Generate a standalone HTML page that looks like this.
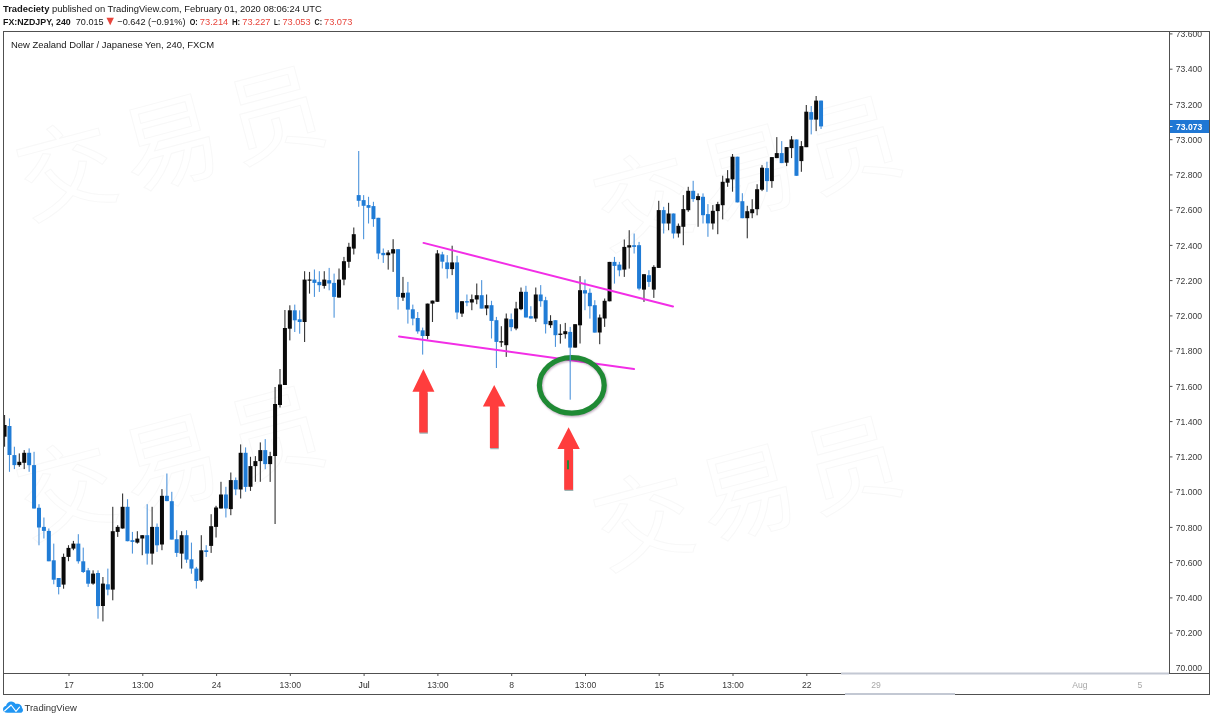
<!DOCTYPE html>
<html lang="en"><head><meta charset="utf-8"><title>NZDJPY chart</title>
<style>
html,body{margin:0;padding:0;background:#fff;}
body{width:1211px;height:719px;overflow:hidden;position:relative;font-family:"Liberation Sans","Noto Sans CJK SC",sans-serif;}
svg{position:absolute;left:0;top:0;display:block;}
svg text{font-family:"Liberation Sans","Noto Sans CJK SC",sans-serif;}
.ax{font-size:8.6px;fill:#3a3a3a;}
.hd{font-size:9.4px;fill:#161616;}
.b{font-weight:bold;}
.r{fill:#e8453c;}
.wm{font-size:98px;letter-spacing:10px;fill:none;stroke:#f8f8f8;stroke-width:1px;font-family:"Noto Sans CJK SC","Liberation Sans",sans-serif;}
</style></head>
<body>
<svg width="1211" height="719" viewBox="0 0 1211 719">
<rect x="0" y="0" width="1211" height="719" fill="#ffffff"/>
<g class="wm">
<text x="28" y="218" transform="rotate(-15 28 218)">交易员</text>
<text x="605" y="248" transform="rotate(-15 605 248)">交易员</text>
<text x="28" y="538" transform="rotate(-15 28 538)">交易员</text>
<text x="605" y="568" transform="rotate(-15 605 568)">交易员</text>
</g>
<text class="hd" x="3" y="11.5"><tspan class="b">Tradeciety</tspan> published on TradingView.com, February 01, 2020 08:06:24 UTC</text>
<text class="hd b" x="3" y="24.5" textLength="67.7" lengthAdjust="spacingAndGlyphs">FX:NZDJPY, 240</text>
<text class="hd" x="75.8" y="24.5" textLength="27.8" lengthAdjust="spacingAndGlyphs">70.015</text>
<text class="hd" x="117.3" y="24.5" textLength="68.2" lengthAdjust="spacingAndGlyphs">−0.642 (−0.91%)</text>
<text class="hd b" x="189.7" y="24.5" textLength="8.0" lengthAdjust="spacingAndGlyphs">O:</text>
<text class="hd r" x="199.8" y="24.5" textLength="28.5" lengthAdjust="spacingAndGlyphs">73.214</text>
<text class="hd b" x="231.9" y="24.5" textLength="8.3" lengthAdjust="spacingAndGlyphs">H:</text>
<text class="hd r" x="242.3" y="24.5" textLength="28.2" lengthAdjust="spacingAndGlyphs">73.227</text>
<text class="hd b" x="274" y="24.5" textLength="6.0" lengthAdjust="spacingAndGlyphs">L:</text>
<text class="hd r" x="282.4" y="24.5" textLength="28.2" lengthAdjust="spacingAndGlyphs">73.053</text>
<text class="hd b" x="314.5" y="24.5" textLength="7.5" lengthAdjust="spacingAndGlyphs">C:</text>
<text class="hd r" x="324" y="24.5" textLength="28.3" lengthAdjust="spacingAndGlyphs">73.073</text>
<text class="hd r" x="110.2" y="25.1" text-anchor="middle" style="font-size:12.5px">▼</text>
<g fill="none" stroke="#505050" stroke-width="1" shape-rendering="crispEdges">
<rect x="3.5" y="31.5" width="1205.5" height="662.5"/>
<line x1="1169.5" y1="31.5" x2="1169.5" y2="673.5"/>
<line x1="3.5" y1="673.5" x2="1208.5" y2="673.5"/>
</g>
<text class="hd" x="11" y="47.5" style="font-size:9.45px">New Zealand Dollar / Japanese Yen, 240, FXCM</text>
<line x1="841" y1="673.5" x2="1169" y2="673.5" stroke="#c3c8d3" stroke-width="1.8"/>
<line x1="845" y1="694" x2="955" y2="694" stroke="#c3c8d3" stroke-width="1.8"/>
<clipPath id="pc"><rect x="1170" y="32" width="38" height="641"/></clipPath>
<g clip-path="url(#pc)">
<line x1="1170" y1="33.9" x2="1172.5" y2="33.9" stroke="#505050" stroke-width="1"/><text class="ax" x="1175.8" y="37.0">73.600</text>
<line x1="1170" y1="69.2" x2="1172.5" y2="69.2" stroke="#505050" stroke-width="1"/><text class="ax" x="1175.8" y="72.2">73.400</text>
<line x1="1170" y1="104.4" x2="1172.5" y2="104.4" stroke="#505050" stroke-width="1"/><text class="ax" x="1175.8" y="107.5">73.200</text>
<line x1="1170" y1="139.7" x2="1172.5" y2="139.7" stroke="#505050" stroke-width="1"/><text class="ax" x="1175.8" y="142.8">73.000</text>
<line x1="1170" y1="174.9" x2="1172.5" y2="174.9" stroke="#505050" stroke-width="1"/><text class="ax" x="1175.8" y="178.0">72.800</text>
<line x1="1170" y1="210.2" x2="1172.5" y2="210.2" stroke="#505050" stroke-width="1"/><text class="ax" x="1175.8" y="213.2">72.600</text>
<line x1="1170" y1="245.4" x2="1172.5" y2="245.4" stroke="#505050" stroke-width="1"/><text class="ax" x="1175.8" y="248.5">72.400</text>
<line x1="1170" y1="280.6" x2="1172.5" y2="280.6" stroke="#505050" stroke-width="1"/><text class="ax" x="1175.8" y="283.8">72.200</text>
<line x1="1170" y1="315.9" x2="1172.5" y2="315.9" stroke="#505050" stroke-width="1"/><text class="ax" x="1175.8" y="319.0">72.000</text>
<line x1="1170" y1="351.1" x2="1172.5" y2="351.1" stroke="#505050" stroke-width="1"/><text class="ax" x="1175.8" y="354.2">71.800</text>
<line x1="1170" y1="386.4" x2="1172.5" y2="386.4" stroke="#505050" stroke-width="1"/><text class="ax" x="1175.8" y="389.5">71.600</text>
<line x1="1170" y1="421.6" x2="1172.5" y2="421.6" stroke="#505050" stroke-width="1"/><text class="ax" x="1175.8" y="424.8">71.400</text>
<line x1="1170" y1="456.9" x2="1172.5" y2="456.9" stroke="#505050" stroke-width="1"/><text class="ax" x="1175.8" y="460.0">71.200</text>
<line x1="1170" y1="492.1" x2="1172.5" y2="492.1" stroke="#505050" stroke-width="1"/><text class="ax" x="1175.8" y="495.2">71.000</text>
<line x1="1170" y1="527.4" x2="1172.5" y2="527.4" stroke="#505050" stroke-width="1"/><text class="ax" x="1175.8" y="530.5">70.800</text>
<line x1="1170" y1="562.6" x2="1172.5" y2="562.6" stroke="#505050" stroke-width="1"/><text class="ax" x="1175.8" y="565.8">70.600</text>
<line x1="1170" y1="597.9" x2="1172.5" y2="597.9" stroke="#505050" stroke-width="1"/><text class="ax" x="1175.8" y="601.0">70.400</text>
<line x1="1170" y1="633.1" x2="1172.5" y2="633.1" stroke="#505050" stroke-width="1"/><text class="ax" x="1175.8" y="636.2">70.200</text>
</g>
<text class="ax" x="1175.8" y="671">70.000</text>
<rect x="1170" y="120" width="39" height="13" fill="#1f77d4"/>
<line x1="1170" y1="126.5" x2="1172.5" y2="126.5" stroke="#fff" stroke-width="1"/>
<text class="ax b" x="1176" y="129.7" style="fill:#fff">73.073</text>
<line x1="69.0" y1="674" x2="69.0" y2="676" stroke="#505050" stroke-width="1"/><text class="ax" x="69.0" y="688" text-anchor="middle">17</text>
<line x1="142.8" y1="674" x2="142.8" y2="676" stroke="#505050" stroke-width="1"/><text class="ax" x="142.8" y="688" text-anchor="middle">13:00</text>
<line x1="216.6" y1="674" x2="216.6" y2="676" stroke="#505050" stroke-width="1"/><text class="ax" x="216.6" y="688" text-anchor="middle">24</text>
<line x1="290.3" y1="674" x2="290.3" y2="676" stroke="#505050" stroke-width="1"/><text class="ax" x="290.3" y="688" text-anchor="middle">13:00</text>
<line x1="364.1" y1="674" x2="364.1" y2="676" stroke="#505050" stroke-width="1"/><text class="ax" x="364.1" y="688" text-anchor="middle" style="fill:#111">Jul</text>
<line x1="437.9" y1="674" x2="437.9" y2="676" stroke="#505050" stroke-width="1"/><text class="ax" x="437.9" y="688" text-anchor="middle">13:00</text>
<line x1="511.7" y1="674" x2="511.7" y2="676" stroke="#505050" stroke-width="1"/><text class="ax" x="511.7" y="688" text-anchor="middle">8</text>
<line x1="585.5" y1="674" x2="585.5" y2="676" stroke="#505050" stroke-width="1"/><text class="ax" x="585.5" y="688" text-anchor="middle">13:00</text>
<line x1="659.2" y1="674" x2="659.2" y2="676" stroke="#505050" stroke-width="1"/><text class="ax" x="659.2" y="688" text-anchor="middle">15</text>
<line x1="733.0" y1="674" x2="733.0" y2="676" stroke="#505050" stroke-width="1"/><text class="ax" x="733.0" y="688" text-anchor="middle">13:00</text>
<line x1="806.8" y1="674" x2="806.8" y2="676" stroke="#505050" stroke-width="1"/><text class="ax" x="806.8" y="688" text-anchor="middle">22</text>
<text class="ax" x="876" y="688" text-anchor="middle" style="fill:#a8a8a8">29</text>
<text class="ax" x="1080" y="688" text-anchor="middle" style="fill:#a8a8a8">Aug</text>
<text class="ax" x="1140" y="688" text-anchor="middle" style="fill:#a8a8a8">5</text>
<clipPath id="cc"><rect x="4" y="32" width="1165" height="641"/></clipPath>
<g clip-path="url(#cc)">
<rect x="4.00" y="415.0" width="1.1" height="31.7" fill="#333333"/><rect x="2.55" y="425.0" width="4" height="11.7" fill="#0a0a0a"/>
<rect x="8.92" y="418.4" width="1.1" height="53.4" fill="#4f95dc"/><rect x="7.47" y="426.0" width="4" height="29.0" fill="#207cd6"/>
<rect x="13.84" y="446.7" width="1.1" height="22.4" fill="#4f95dc"/><rect x="12.39" y="455.1" width="4" height="10.0" fill="#207cd6"/>
<rect x="18.76" y="453.4" width="1.1" height="13.4" fill="#333333"/><rect x="17.31" y="461.8" width="4" height="3.3" fill="#0a0a0a"/>
<rect x="23.67" y="450.1" width="1.1" height="19.0" fill="#333333"/><rect x="22.22" y="452.8" width="4" height="10.0" fill="#0a0a0a"/>
<rect x="28.59" y="448.4" width="1.1" height="23.4" fill="#4f95dc"/><rect x="27.14" y="452.8" width="4" height="12.4" fill="#207cd6"/>
<rect x="33.51" y="451.8" width="1.1" height="56.8" fill="#4f95dc"/><rect x="32.06" y="465.1" width="4" height="43.4" fill="#207cd6"/>
<rect x="38.43" y="504.2" width="1.1" height="41.1" fill="#4f95dc"/><rect x="36.98" y="507.8" width="4" height="19.7" fill="#207cd6"/>
<rect x="43.35" y="517.5" width="1.1" height="21.0" fill="#4f95dc"/><rect x="41.90" y="526.9" width="4" height="4.0" fill="#207cd6"/>
<rect x="48.27" y="528.5" width="1.1" height="32.7" fill="#4f95dc"/><rect x="46.82" y="530.9" width="4" height="30.4" fill="#207cd6"/>
<rect x="53.19" y="543.6" width="1.1" height="40.7" fill="#4f95dc"/><rect x="51.74" y="560.3" width="4" height="19.4" fill="#207cd6"/>
<rect x="58.11" y="578.0" width="1.1" height="16.4" fill="#4f95dc"/><rect x="56.66" y="578.0" width="4" height="9.0" fill="#207cd6"/>
<rect x="63.02" y="553.6" width="1.1" height="35.1" fill="#333333"/><rect x="61.57" y="556.9" width="4" height="27.7" fill="#0a0a0a"/>
<rect x="67.94" y="545.2" width="1.1" height="16.0" fill="#333333"/><rect x="66.49" y="547.9" width="4" height="9.0" fill="#0a0a0a"/>
<rect x="72.86" y="540.9" width="1.1" height="9.3" fill="#333333"/><rect x="71.41" y="543.6" width="4" height="5.0" fill="#0a0a0a"/>
<rect x="77.78" y="534.2" width="1.1" height="29.4" fill="#4f95dc"/><rect x="76.33" y="543.6" width="4" height="17.7" fill="#207cd6"/>
<rect x="82.70" y="547.6" width="1.1" height="25.4" fill="#4f95dc"/><rect x="81.25" y="561.3" width="4" height="10.7" fill="#207cd6"/>
<rect x="87.62" y="567.9" width="1.1" height="19.0" fill="#4f95dc"/><rect x="86.17" y="570.3" width="4" height="13.4" fill="#207cd6"/>
<rect x="92.54" y="570.3" width="1.1" height="14.4" fill="#333333"/><rect x="91.09" y="573.6" width="4" height="10.0" fill="#0a0a0a"/>
<rect x="97.46" y="570.3" width="1.1" height="48.4" fill="#4f95dc"/><rect x="96.01" y="573.0" width="4" height="33.1" fill="#207cd6"/>
<rect x="102.37" y="577.0" width="1.1" height="44.4" fill="#333333"/><rect x="100.92" y="583.6" width="4" height="22.4" fill="#0a0a0a"/>
<rect x="107.29" y="568.6" width="1.1" height="26.7" fill="#4f95dc"/><rect x="105.84" y="584.3" width="4" height="5.3" fill="#207cd6"/>
<rect x="112.21" y="506.8" width="1.1" height="93.5" fill="#333333"/><rect x="110.76" y="531.2" width="4" height="58.4" fill="#0a0a0a"/>
<rect x="117.13" y="525.2" width="1.1" height="11.7" fill="#333333"/><rect x="115.68" y="526.9" width="4" height="5.0" fill="#0a0a0a"/>
<rect x="122.05" y="493.5" width="1.1" height="35.1" fill="#333333"/><rect x="120.60" y="506.8" width="4" height="21.7" fill="#0a0a0a"/>
<rect x="126.97" y="499.2" width="1.1" height="42.1" fill="#4f95dc"/><rect x="125.52" y="506.8" width="4" height="34.4" fill="#207cd6"/>
<rect x="131.89" y="531.9" width="1.1" height="21.7" fill="#4f95dc"/><rect x="130.44" y="540.2" width="4" height="1.7" fill="#207cd6"/>
<rect x="136.80" y="531.2" width="1.1" height="12.4" fill="#333333"/><rect x="135.35" y="538.6" width="4" height="4.0" fill="#0a0a0a"/>
<rect x="141.72" y="535.2" width="1.1" height="20.0" fill="#333333"/><rect x="140.27" y="535.2" width="4" height="3.3" fill="#0a0a0a"/>
<rect x="146.64" y="504.2" width="1.1" height="60.4" fill="#4f95dc"/><rect x="145.19" y="535.2" width="4" height="18.4" fill="#207cd6"/>
<rect x="151.56" y="506.8" width="1.1" height="57.8" fill="#333333"/><rect x="150.11" y="526.9" width="4" height="26.7" fill="#0a0a0a"/>
<rect x="156.48" y="523.5" width="1.1" height="28.4" fill="#4f95dc"/><rect x="155.03" y="526.9" width="4" height="18.4" fill="#207cd6"/>
<rect x="161.40" y="489.1" width="1.1" height="61.1" fill="#333333"/><rect x="159.95" y="495.8" width="4" height="48.7" fill="#0a0a0a"/>
<rect x="166.32" y="473.5" width="1.1" height="27.7" fill="#4f95dc"/><rect x="164.87" y="495.8" width="4" height="5.3" fill="#207cd6"/>
<rect x="171.24" y="491.8" width="1.1" height="47.7" fill="#4f95dc"/><rect x="169.79" y="501.2" width="4" height="38.4" fill="#207cd6"/>
<rect x="176.15" y="530.2" width="1.1" height="26.7" fill="#4f95dc"/><rect x="174.70" y="539.2" width="4" height="13.7" fill="#207cd6"/>
<rect x="181.07" y="531.2" width="1.1" height="37.4" fill="#333333"/><rect x="179.62" y="535.2" width="4" height="18.4" fill="#0a0a0a"/>
<rect x="185.99" y="530.2" width="1.1" height="32.7" fill="#4f95dc"/><rect x="184.54" y="535.2" width="4" height="24.4" fill="#207cd6"/>
<rect x="190.91" y="542.6" width="1.1" height="31.1" fill="#4f95dc"/><rect x="189.46" y="559.3" width="4" height="9.3" fill="#207cd6"/>
<rect x="195.83" y="566.9" width="1.1" height="21.7" fill="#4f95dc"/><rect x="194.38" y="568.6" width="4" height="12.4" fill="#207cd6"/>
<rect x="200.75" y="535.2" width="1.1" height="46.7" fill="#333333"/><rect x="199.30" y="550.3" width="4" height="30.1" fill="#0a0a0a"/>
<rect x="205.67" y="545.2" width="1.1" height="11.7" fill="#4f95dc"/><rect x="204.22" y="550.3" width="4" height="1.7" fill="#207cd6"/>
<rect x="210.59" y="514.2" width="1.1" height="38.7" fill="#333333"/><rect x="209.14" y="526.2" width="4" height="19.7" fill="#0a0a0a"/>
<rect x="215.50" y="505.8" width="1.1" height="31.7" fill="#333333"/><rect x="214.05" y="507.5" width="4" height="19.4" fill="#0a0a0a"/>
<rect x="220.42" y="481.8" width="1.1" height="26.7" fill="#333333"/><rect x="218.97" y="494.5" width="4" height="14.0" fill="#0a0a0a"/>
<rect x="225.34" y="486.8" width="1.1" height="30.7" fill="#4f95dc"/><rect x="223.89" y="494.5" width="4" height="14.0" fill="#207cd6"/>
<rect x="230.26" y="472.5" width="1.1" height="42.7" fill="#333333"/><rect x="228.81" y="480.1" width="4" height="29.0" fill="#0a0a0a"/>
<rect x="235.18" y="477.5" width="1.1" height="17.7" fill="#4f95dc"/><rect x="233.73" y="480.1" width="4" height="9.3" fill="#207cd6"/>
<rect x="240.10" y="444.4" width="1.1" height="54.1" fill="#333333"/><rect x="238.65" y="452.8" width="4" height="36.7" fill="#0a0a0a"/>
<rect x="245.02" y="447.4" width="1.1" height="44.4" fill="#4f95dc"/><rect x="243.57" y="452.8" width="4" height="34.1" fill="#207cd6"/>
<rect x="249.94" y="456.8" width="1.1" height="34.1" fill="#333333"/><rect x="248.49" y="466.1" width="4" height="20.7" fill="#0a0a0a"/>
<rect x="254.85" y="456.1" width="1.1" height="25.7" fill="#333333"/><rect x="253.40" y="461.1" width="4" height="5.0" fill="#0a0a0a"/>
<rect x="259.77" y="442.4" width="1.1" height="39.4" fill="#333333"/><rect x="258.32" y="450.1" width="4" height="11.0" fill="#0a0a0a"/>
<rect x="264.69" y="439.1" width="1.1" height="30.1" fill="#4f95dc"/><rect x="263.24" y="450.1" width="4" height="14.0" fill="#207cd6"/>
<rect x="269.61" y="451.8" width="1.1" height="30.1" fill="#333333"/><rect x="268.16" y="456.1" width="4" height="8.0" fill="#0a0a0a"/>
<rect x="274.53" y="387.0" width="1.1" height="137.0" fill="#333333"/><rect x="273.08" y="404.0" width="4" height="52.0" fill="#0a0a0a"/>
<rect x="279.45" y="369.0" width="1.1" height="38.5" fill="#333333"/><rect x="278.00" y="384.5" width="4" height="20.5" fill="#0a0a0a"/>
<rect x="284.37" y="310.0" width="1.1" height="75.0" fill="#333333"/><rect x="282.92" y="328.0" width="4" height="57.0" fill="#0a0a0a"/>
<rect x="289.28" y="305.3" width="1.1" height="35.1" fill="#333333"/><rect x="287.83" y="310.3" width="4" height="18.4" fill="#0a0a0a"/>
<rect x="294.20" y="304.6" width="1.1" height="27.4" fill="#4f95dc"/><rect x="292.75" y="310.3" width="4" height="10.0" fill="#207cd6"/>
<rect x="299.12" y="310.3" width="1.1" height="23.4" fill="#4f95dc"/><rect x="297.67" y="319.3" width="4" height="2.7" fill="#207cd6"/>
<rect x="304.04" y="271.2" width="1.1" height="70.8" fill="#333333"/><rect x="302.59" y="279.6" width="4" height="42.4" fill="#0a0a0a"/>
<rect x="308.96" y="271.9" width="1.1" height="21.7" fill="#333333"/><rect x="307.51" y="279.5" width="4" height="1.2" fill="#0a0a0a"/>
<rect x="313.88" y="269.5" width="1.1" height="27.4" fill="#4f95dc"/><rect x="312.43" y="279.6" width="4" height="3.3" fill="#207cd6"/>
<rect x="318.80" y="271.2" width="1.1" height="20.7" fill="#4f95dc"/><rect x="317.35" y="281.9" width="4" height="3.3" fill="#207cd6"/>
<rect x="323.72" y="271.2" width="1.1" height="17.4" fill="#333333"/><rect x="322.27" y="279.6" width="4" height="6.3" fill="#0a0a0a"/>
<rect x="328.63" y="267.9" width="1.1" height="22.4" fill="#4f95dc"/><rect x="327.18" y="280.2" width="4" height="3.3" fill="#207cd6"/>
<rect x="333.55" y="273.6" width="1.1" height="44.1" fill="#4f95dc"/><rect x="332.10" y="282.9" width="4" height="14.0" fill="#207cd6"/>
<rect x="338.47" y="268.5" width="1.1" height="29.0" fill="#333333"/><rect x="337.02" y="279.6" width="4" height="18.0" fill="#0a0a0a"/>
<rect x="343.39" y="256.9" width="1.1" height="28.4" fill="#333333"/><rect x="341.94" y="261.2" width="4" height="18.4" fill="#0a0a0a"/>
<rect x="348.31" y="242.8" width="1.1" height="25.0" fill="#333333"/><rect x="346.86" y="246.8" width="4" height="15.0" fill="#0a0a0a"/>
<rect x="353.23" y="227.5" width="1.1" height="27.0" fill="#333333"/><rect x="351.78" y="234.2" width="4" height="14.4" fill="#0a0a0a"/>
<rect x="358.15" y="151.0" width="1.1" height="55.8" fill="#4f95dc"/><rect x="356.70" y="195.1" width="4" height="5.7" fill="#207cd6"/>
<rect x="363.07" y="195.1" width="1.1" height="44.1" fill="#4f95dc"/><rect x="361.62" y="200.1" width="4" height="5.7" fill="#207cd6"/>
<rect x="367.98" y="196.8" width="1.1" height="26.7" fill="#4f95dc"/><rect x="366.53" y="205.1" width="4" height="2.7" fill="#207cd6"/>
<rect x="372.90" y="201.8" width="1.1" height="25.0" fill="#4f95dc"/><rect x="371.45" y="206.1" width="4" height="13.0" fill="#207cd6"/>
<rect x="377.82" y="217.8" width="1.1" height="41.4" fill="#4f95dc"/><rect x="376.37" y="217.8" width="4" height="35.7" fill="#207cd6"/>
<rect x="382.74" y="248.5" width="1.1" height="14.4" fill="#4f95dc"/><rect x="381.29" y="252.9" width="4" height="2.3" fill="#207cd6"/>
<rect x="387.66" y="250.2" width="1.1" height="19.4" fill="#333333"/><rect x="386.21" y="252.5" width="4" height="2.7" fill="#0a0a0a"/>
<rect x="392.58" y="239.2" width="1.1" height="32.7" fill="#333333"/><rect x="391.13" y="249.2" width="4" height="4.3" fill="#0a0a0a"/>
<rect x="397.50" y="249.2" width="1.1" height="60.4" fill="#4f95dc"/><rect x="396.05" y="249.2" width="4" height="47.7" fill="#207cd6"/>
<rect x="402.41" y="276.9" width="1.1" height="24.0" fill="#333333"/><rect x="400.96" y="292.9" width="4" height="4.7" fill="#0a0a0a"/>
<rect x="407.33" y="281.9" width="1.1" height="41.7" fill="#4f95dc"/><rect x="405.88" y="292.6" width="4" height="17.0" fill="#207cd6"/>
<rect x="412.25" y="304.6" width="1.1" height="20.7" fill="#4f95dc"/><rect x="410.80" y="309.3" width="4" height="9.3" fill="#207cd6"/>
<rect x="417.17" y="312.0" width="1.1" height="21.7" fill="#4f95dc"/><rect x="415.72" y="318.0" width="4" height="13.4" fill="#207cd6"/>
<rect x="422.09" y="327.6" width="1.1" height="27.0" fill="#4f95dc"/><rect x="420.64" y="330.3" width="4" height="5.7" fill="#207cd6"/>
<rect x="427.01" y="303.6" width="1.1" height="35.7" fill="#333333"/><rect x="425.56" y="303.6" width="4" height="32.4" fill="#0a0a0a"/>
<rect x="431.93" y="300.6" width="1.1" height="21.4" fill="#333333"/><rect x="430.48" y="300.6" width="4" height="3.0" fill="#0a0a0a"/>
<rect x="436.85" y="250.1" width="1.1" height="51.8" fill="#333333"/><rect x="435.40" y="253.4" width="4" height="48.4" fill="#0a0a0a"/>
<rect x="441.76" y="251.8" width="1.1" height="16.7" fill="#4f95dc"/><rect x="440.31" y="254.4" width="4" height="7.3" fill="#207cd6"/>
<rect x="446.68" y="255.1" width="1.1" height="23.4" fill="#4f95dc"/><rect x="445.23" y="262.4" width="4" height="6.7" fill="#207cd6"/>
<rect x="451.60" y="245.7" width="1.1" height="29.4" fill="#333333"/><rect x="450.15" y="262.4" width="4" height="6.7" fill="#0a0a0a"/>
<rect x="456.52" y="255.8" width="1.1" height="63.4" fill="#4f95dc"/><rect x="455.07" y="262.4" width="4" height="50.1" fill="#207cd6"/>
<rect x="461.44" y="301.2" width="1.1" height="15.7" fill="#333333"/><rect x="459.99" y="301.2" width="4" height="12.4" fill="#0a0a0a"/>
<rect x="466.36" y="294.5" width="1.1" height="11.7" fill="#4f95dc"/><rect x="464.91" y="301.2" width="4" height="1.3" fill="#207cd6"/>
<rect x="471.28" y="294.5" width="1.1" height="15.7" fill="#333333"/><rect x="469.83" y="299.2" width="4" height="3.3" fill="#0a0a0a"/>
<rect x="476.20" y="283.5" width="1.1" height="20.7" fill="#333333"/><rect x="474.75" y="295.2" width="4" height="4.3" fill="#0a0a0a"/>
<rect x="481.11" y="280.1" width="1.1" height="28.4" fill="#4f95dc"/><rect x="479.66" y="295.2" width="4" height="13.4" fill="#207cd6"/>
<rect x="486.03" y="294.5" width="1.1" height="20.7" fill="#333333"/><rect x="484.58" y="305.2" width="4" height="3.3" fill="#0a0a0a"/>
<rect x="490.95" y="300.8" width="1.1" height="37.7" fill="#4f95dc"/><rect x="489.50" y="305.2" width="4" height="15.7" fill="#207cd6"/>
<rect x="495.87" y="316.9" width="1.1" height="51.1" fill="#4f95dc"/><rect x="494.42" y="320.2" width="4" height="21.7" fill="#207cd6"/>
<rect x="500.79" y="326.2" width="1.1" height="20.7" fill="#333333"/><rect x="499.34" y="341.2" width="4" height="1.3" fill="#0a0a0a"/>
<rect x="505.71" y="313.5" width="1.1" height="43.4" fill="#333333"/><rect x="504.26" y="318.5" width="4" height="26.7" fill="#0a0a0a"/>
<rect x="510.63" y="313.5" width="1.1" height="17.7" fill="#4f95dc"/><rect x="509.18" y="319.2" width="4" height="8.0" fill="#207cd6"/>
<rect x="515.54" y="301.8" width="1.1" height="28.4" fill="#333333"/><rect x="514.09" y="308.5" width="4" height="20.0" fill="#0a0a0a"/>
<rect x="520.46" y="287.5" width="1.1" height="22.7" fill="#333333"/><rect x="519.01" y="291.8" width="4" height="17.4" fill="#0a0a0a"/>
<rect x="525.38" y="285.8" width="1.1" height="31.7" fill="#4f95dc"/><rect x="523.93" y="291.8" width="4" height="25.7" fill="#207cd6"/>
<rect x="530.30" y="306.2" width="1.1" height="12.4" fill="#4f95dc"/><rect x="528.85" y="316.2" width="4" height="2.3" fill="#207cd6"/>
<rect x="535.22" y="287.5" width="1.1" height="34.4" fill="#333333"/><rect x="533.77" y="294.5" width="4" height="24.0" fill="#0a0a0a"/>
<rect x="540.14" y="285.1" width="1.1" height="21.7" fill="#4f95dc"/><rect x="538.69" y="294.5" width="4" height="6.7" fill="#207cd6"/>
<rect x="545.06" y="296.8" width="1.1" height="36.7" fill="#4f95dc"/><rect x="543.61" y="300.2" width="4" height="24.0" fill="#207cd6"/>
<rect x="549.98" y="315.2" width="1.1" height="12.7" fill="#333333"/><rect x="548.53" y="320.9" width="4" height="4.3" fill="#0a0a0a"/>
<rect x="554.89" y="320.2" width="1.1" height="26.7" fill="#4f95dc"/><rect x="553.44" y="320.2" width="4" height="15.0" fill="#207cd6"/>
<rect x="559.81" y="324.2" width="1.1" height="19.4" fill="#333333"/><rect x="558.36" y="333.6" width="4" height="1.3" fill="#0a0a0a"/>
<rect x="564.73" y="322.9" width="1.1" height="15.7" fill="#333333"/><rect x="563.28" y="331.2" width="4" height="3.0" fill="#0a0a0a"/>
<rect x="569.65" y="326.9" width="1.1" height="72.8" fill="#4f95dc"/><rect x="568.20" y="331.9" width="4" height="15.7" fill="#207cd6"/>
<rect x="574.57" y="324.2" width="1.1" height="23.4" fill="#333333"/><rect x="573.12" y="324.2" width="4" height="23.4" fill="#0a0a0a"/>
<rect x="579.49" y="276.1" width="1.1" height="67.4" fill="#333333"/><rect x="578.04" y="290.2" width="4" height="35.1" fill="#0a0a0a"/>
<rect x="584.41" y="279.5" width="1.1" height="30.7" fill="#4f95dc"/><rect x="582.96" y="290.2" width="4" height="3.3" fill="#207cd6"/>
<rect x="589.33" y="288.5" width="1.1" height="30.1" fill="#4f95dc"/><rect x="587.88" y="292.8" width="4" height="13.4" fill="#207cd6"/>
<rect x="594.24" y="300.2" width="1.1" height="32.4" fill="#4f95dc"/><rect x="592.79" y="305.2" width="4" height="27.4" fill="#207cd6"/>
<rect x="599.16" y="314.5" width="1.1" height="29.7" fill="#333333"/><rect x="597.71" y="317.5" width="4" height="15.0" fill="#0a0a0a"/>
<rect x="604.08" y="298.5" width="1.1" height="28.4" fill="#333333"/><rect x="602.63" y="300.8" width="4" height="17.7" fill="#0a0a0a"/>
<rect x="609.00" y="261.9" width="1.1" height="39.4" fill="#333333"/><rect x="607.55" y="261.9" width="4" height="39.4" fill="#0a0a0a"/>
<rect x="613.92" y="256.9" width="1.1" height="26.7" fill="#4f95dc"/><rect x="612.47" y="261.9" width="4" height="4.0" fill="#207cd6"/>
<rect x="618.84" y="261.9" width="1.1" height="14.4" fill="#4f95dc"/><rect x="617.39" y="264.6" width="4" height="5.7" fill="#207cd6"/>
<rect x="623.76" y="239.5" width="1.1" height="37.4" fill="#333333"/><rect x="622.31" y="246.9" width="4" height="22.7" fill="#0a0a0a"/>
<rect x="628.67" y="230.2" width="1.1" height="38.4" fill="#333333"/><rect x="627.22" y="245.2" width="4" height="2.3" fill="#0a0a0a"/>
<rect x="633.59" y="233.5" width="1.1" height="20.0" fill="#4f95dc"/><rect x="632.14" y="245.2" width="4" height="1.7" fill="#207cd6"/>
<rect x="638.51" y="241.9" width="1.1" height="48.4" fill="#4f95dc"/><rect x="637.06" y="245.2" width="4" height="43.4" fill="#207cd6"/>
<rect x="643.43" y="274.2" width="1.1" height="27.7" fill="#333333"/><rect x="641.98" y="274.2" width="4" height="15.4" fill="#0a0a0a"/>
<rect x="648.35" y="270.2" width="1.1" height="16.7" fill="#4f95dc"/><rect x="646.90" y="275.2" width="4" height="6.7" fill="#207cd6"/>
<rect x="653.27" y="265.2" width="1.1" height="32.7" fill="#333333"/><rect x="651.82" y="266.9" width="4" height="22.7" fill="#0a0a0a"/>
<rect x="658.19" y="200.8" width="1.1" height="67.1" fill="#333333"/><rect x="656.74" y="210.1" width="4" height="57.8" fill="#0a0a0a"/>
<rect x="663.11" y="206.8" width="1.1" height="26.7" fill="#4f95dc"/><rect x="661.66" y="210.1" width="4" height="13.4" fill="#207cd6"/>
<rect x="668.02" y="202.8" width="1.1" height="27.4" fill="#333333"/><rect x="666.57" y="213.5" width="4" height="10.0" fill="#0a0a0a"/>
<rect x="672.94" y="213.5" width="1.1" height="25.0" fill="#4f95dc"/><rect x="671.49" y="213.5" width="4" height="20.0" fill="#207cd6"/>
<rect x="677.86" y="223.5" width="1.1" height="14.0" fill="#333333"/><rect x="676.41" y="225.8" width="4" height="7.7" fill="#0a0a0a"/>
<rect x="682.78" y="195.1" width="1.1" height="50.1" fill="#333333"/><rect x="681.33" y="209.1" width="4" height="17.7" fill="#0a0a0a"/>
<rect x="687.70" y="186.8" width="1.1" height="25.0" fill="#333333"/><rect x="686.25" y="190.8" width="4" height="19.4" fill="#0a0a0a"/>
<rect x="692.62" y="180.8" width="1.1" height="21.0" fill="#4f95dc"/><rect x="691.17" y="190.8" width="4" height="8.3" fill="#207cd6"/>
<rect x="697.54" y="193.4" width="1.1" height="33.4" fill="#333333"/><rect x="696.09" y="196.1" width="4" height="4.0" fill="#0a0a0a"/>
<rect x="702.46" y="193.4" width="1.1" height="30.1" fill="#4f95dc"/><rect x="701.01" y="196.8" width="4" height="18.4" fill="#207cd6"/>
<rect x="707.37" y="204.1" width="1.1" height="32.7" fill="#4f95dc"/><rect x="705.92" y="214.1" width="4" height="9.3" fill="#207cd6"/>
<rect x="712.29" y="205.1" width="1.1" height="24.4" fill="#333333"/><rect x="710.84" y="210.8" width="4" height="12.7" fill="#0a0a0a"/>
<rect x="717.21" y="201.8" width="1.1" height="32.4" fill="#333333"/><rect x="715.76" y="204.1" width="4" height="7.0" fill="#0a0a0a"/>
<rect x="722.13" y="175.7" width="1.1" height="43.7" fill="#333333"/><rect x="720.68" y="181.8" width="4" height="23.4" fill="#0a0a0a"/>
<rect x="727.05" y="170.1" width="1.1" height="16.7" fill="#333333"/><rect x="725.60" y="178.4" width="4" height="4.3" fill="#0a0a0a"/>
<rect x="731.97" y="154.0" width="1.1" height="37.7" fill="#333333"/><rect x="730.52" y="156.7" width="4" height="22.7" fill="#0a0a0a"/>
<rect x="736.89" y="156.7" width="1.1" height="45.7" fill="#4f95dc"/><rect x="735.44" y="156.7" width="4" height="45.7" fill="#207cd6"/>
<rect x="741.81" y="193.2" width="1.1" height="25.0" fill="#4f95dc"/><rect x="740.36" y="201.2" width="4" height="17.0" fill="#207cd6"/>
<rect x="746.72" y="205.8" width="1.1" height="32.5" fill="#333333"/><rect x="745.27" y="211.2" width="4" height="7.0" fill="#0a0a0a"/>
<rect x="751.64" y="199.2" width="1.1" height="19.0" fill="#333333"/><rect x="750.19" y="209.2" width="4" height="4.0" fill="#0a0a0a"/>
<rect x="756.56" y="184.2" width="1.1" height="31.1" fill="#333333"/><rect x="755.11" y="189.2" width="4" height="20.0" fill="#0a0a0a"/>
<rect x="761.48" y="165.1" width="1.1" height="26.0" fill="#333333"/><rect x="760.03" y="167.7" width="4" height="22.0" fill="#0a0a0a"/>
<rect x="766.40" y="161.7" width="1.1" height="30.1" fill="#4f95dc"/><rect x="764.95" y="168.1" width="4" height="13.0" fill="#207cd6"/>
<rect x="771.32" y="157.1" width="1.1" height="30.7" fill="#333333"/><rect x="769.87" y="157.1" width="4" height="24.0" fill="#0a0a0a"/>
<rect x="776.24" y="137.1" width="1.1" height="21.0" fill="#333333"/><rect x="774.79" y="153.1" width="4" height="5.0" fill="#0a0a0a"/>
<rect x="781.15" y="141.1" width="1.1" height="22.0" fill="#4f95dc"/><rect x="779.70" y="153.1" width="4" height="10.0" fill="#207cd6"/>
<rect x="786.07" y="147.1" width="1.1" height="19.0" fill="#333333"/><rect x="784.62" y="147.1" width="4" height="15.6" fill="#0a0a0a"/>
<rect x="790.99" y="136.1" width="1.1" height="22.0" fill="#333333"/><rect x="789.54" y="139.5" width="4" height="8.6" fill="#0a0a0a"/>
<rect x="795.91" y="139.5" width="1.1" height="36.3" fill="#4f95dc"/><rect x="794.46" y="139.5" width="4" height="36.3" fill="#207cd6"/>
<rect x="800.83" y="141.1" width="1.1" height="30.7" fill="#333333"/><rect x="799.38" y="146.1" width="4" height="15.0" fill="#0a0a0a"/>
<rect x="805.75" y="105.0" width="1.1" height="42.1" fill="#333333"/><rect x="804.30" y="111.7" width="4" height="35.5" fill="#0a0a0a"/>
<rect x="810.67" y="106.0" width="1.1" height="28.4" fill="#4f95dc"/><rect x="809.22" y="112.1" width="4" height="7.6" fill="#207cd6"/>
<rect x="815.59" y="96.0" width="1.1" height="35.1" fill="#333333"/><rect x="814.14" y="100.6" width="4" height="19.0" fill="#0a0a0a"/>
<rect x="820.50" y="100.6" width="1.1" height="28.4" fill="#4f95dc"/><rect x="819.05" y="100.6" width="4" height="25.8" fill="#207cd6"/>
</g>
<g stroke="#f22ee6" stroke-width="2" stroke-linecap="round">
<line x1="423.5" y1="242.9" x2="673" y2="306.5"/>
<line x1="399" y1="336.4" x2="634" y2="369"/>
</g>
<filter id="sh" x="-20%" y="-20%" width="140%" height="140%"><feGaussianBlur stdDeviation="0.9"/></filter>
<ellipse cx="572.6" cy="386.6" rx="32.4" ry="27.8" fill="none" stroke="#6a3a6a" stroke-width="5" opacity="0.45" filter="url(#sh)"/>
<ellipse cx="571.8" cy="385.3" rx="32.4" ry="27.8" fill="none" stroke="#1f8a34" stroke-width="5.2"/>
<rect x="569.65" y="355" width="1.1" height="6.5" fill="#4f95dc"/>
<polygon points="434.4,391.7 427.59999999999997,391.7 427.59999999999997,432.4 419.2,432.4 419.2,391.7 412.4,391.7" transform="translate(0.3,1.3)" fill="#7d9a9a" opacity="0.75"/>
<polygon points="423.4,369 434.4,391.7 427.59999999999997,391.7 427.59999999999997,432.4 419.2,432.4 419.2,391.7 412.4,391.7" fill="#ff3d3d"/>
<polygon points="505.5,406.4 498.5,406.4 498.5,448 489.9,448 489.9,406.4 482.9,406.4" transform="translate(0.3,1.3)" fill="#7d9a9a" opacity="0.75"/>
<polygon points="494.2,385 505.5,406.4 498.5,406.4 498.5,448 489.9,448 489.9,406.4 482.9,406.4" fill="#ff3d3d"/>
<polygon points="579.8000000000001,449.1 573.0,449.1 573.0,489.7 564.2,489.7 564.2,449.1 557.4,449.1" transform="translate(0.3,1.3)" fill="#7d9a9a" opacity="0.75"/>
<polygon points="568.6,427.3 579.8000000000001,449.1 573.0,449.1 573.0,489.7 564.2,489.7 564.2,449.1 557.4,449.1" fill="#ff3d3d"/>
<rect x="567" y="460.3" width="2" height="9" fill="#1f8a34"/>
<g transform="translate(3,701.5)">
<path d="M4.2 11.3 C1.6 11.3 0 9.7 0 7.7 C0 5.9 1.3 4.5 3.1 4.2 C3.6 1.8 5.7 0 8.2 0 C10.1 0 11.8 1 12.7 2.6 C13.2 2.4 13.8 2.3 14.4 2.3 C16.9 2.3 18.9 4.2 19.1 6.6 C19.7 7.1 20 7.9 20 8.7 C20 10.2 18.8 11.3 17.3 11.3 Z" fill="#2196f3"/>
<path d="M1.5 9.5 L8.1 3.5 L13 9.8 L16.5 5.7" fill="none" stroke="#fff" stroke-width="1.1" stroke-linejoin="round" stroke-linecap="round"/>
</g>
<text x="24.5" y="711" style="font-size:9.5px;fill:#333">TradingView</text>
</svg>
</body></html>
